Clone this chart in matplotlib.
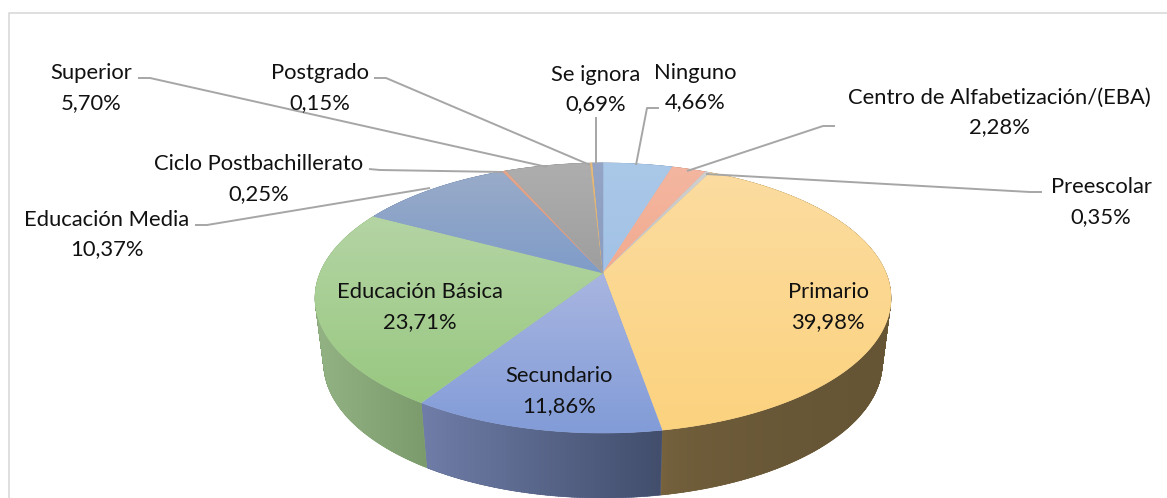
import numpy as np
import matplotlib
matplotlib.use("Agg")
import matplotlib.pyplot as plt
from matplotlib.colors import to_rgb
from matplotlib.patches import PathPatch, Polygon
from matplotlib.path import Path

plt.rcParams['font.family'] = ['Lato', 'DejaVu Sans']

categories = ["Ninguno", "Centro de Alfabetización/(EBA)", "Preescolar", "Primario",
              "Secundario", "Educación Básica", "Educación Media",
              "Ciclo Postbachillerato", "Superior", "Postgrado", "Se ignora"]
values = [4.66, 2.28, 0.35, 39.98, 11.86, 23.71, 10.37, 0.25, 5.70, 0.15, 0.69]

# top face gradient (upper colour, lower colour)
top_hi = ["#aac8e8", "#f4b6a0", "#cfcfcf", "#fcdca0", "#a8b5e0", "#b4d4a4",
          "#99abc9", "#e3a68c", "#aeaeae", "#e6bb7c", "#94a5c6"]
top_lo = ["#a2c2e6", "#f2ab90", "#c4c4c4", "#fbd27e", "#829cd8", "#98c880",
          "#7f9cc8", "#dd9a7e", "#9e9e9e", "#e0b070", "#8a9cc0"]
# side gradient (left colour, right colour, how fast it gets there)
side_l = ["#6d8299", "#a07a68", "#858585", "#7c6640", "#6f7da8", "#94b384",
          "#66788f", "#96705e", "#777777", "#98784c", "#66748c"]
side_r = ["#6d8299", "#a07a68", "#858585", "#655535", "#424e6c", "#7b9b6c",
          "#66788f", "#96705e", "#777777", "#98784c", "#66748c"]
side_bend = [1, 1, 1, 0.3, 1, 1, 1, 1, 1, 1, 1]

# label centre x, first line y, second line y
label_pos = [(695, 72, 101), (999, 97, 126), (1101, 186, 216), (828, 291, 321),
             (559, 375, 405), (420, 291, 321), (107, 219, 248), (259, 163, 193),
             (91, 72, 102), (320, 72, 102), (596, 74, 103)]
# leader lines, None for labels sitting inside the pie
leaders = [[(659, 108), (647, 108), (636, 165)],
           [(835, 126), (823, 126), (687, 171)],
           [(1042, 192), (1030, 192), (706, 174)],
           None, None, None,
           [(195, 225), (207, 225), (430, 188)],
           [(369, 169), (380, 170), (503, 172)],
           [(138, 78), (150, 78), (547, 167)],
           [(374, 78), (386, 78), (590, 165)],
           [(596, 117), (596, 164)]]

# pie in perspective
cx, cy = 603, 273
rad_x, rad_y, persp = 283, 130.4, 0.185
depth, shrink = 65, 0.97


def rim(t):
    x = np.sin(t)
    y = np.cos(t)
    w = 1 + persp * y
    return cx + rad_x * x / w, cy - rad_y * y / w


def grad_fill(ax, path, c1, c2, vertical, z, bend=1):
    base = tuple((np.array(to_rgb(c1)) + np.array(to_rgb(c2))) / 2)
    ax.add_patch(PathPatch(path, fc=base, ec=base, lw=0.4, zorder=z))
    k = np.linspace(0, 1, 128)[:, None] ** bend
    ramp = (1 - k) * np.array(to_rgb(c1)) + k * np.array(to_rgb(c2))
    img = ramp[:, None, :] if vertical else ramp[None, :, :]
    x0, y0 = path.vertices.min(axis=0)
    x1, y1 = path.vertices.max(axis=0)
    im = ax.imshow(img, extent=(x0, x1, y1, y0), aspect='auto',
                   interpolation='bilinear', zorder=z + 0.01)
    im.set_clip_path(path, transform=ax.transData)


def side_path(xs, ys):
    # one quad per rim step, so the outline at the left and right turn is swept too
    lx = cx + shrink * (xs - cx)
    ly = ys + depth
    quads = []
    for j in range(len(xs) - 1):
        q = np.array([[xs[j], ys[j]], [xs[j + 1], ys[j + 1]],
                      [lx[j + 1], ly[j + 1]], [lx[j], ly[j]]])
        area = np.sum(q[:, 0] * np.roll(q[:, 1], -1) - np.roll(q[:, 0], -1) * q[:, 1])
        if area < 0:
            q = q[::-1]
        quads.append(Path(np.vstack([q, q[:1]]), closed=True))
    return Path.make_compound_path(*quads)


fig = plt.figure(figsize=(11.67, 4.98), dpi=100)
ax = fig.add_axes([0, 0, 1, 1])

edges = np.concatenate([[0], np.cumsum(values)]) / np.sum(values) * 2 * np.pi
faces = []
for i in range(len(values)):
    t = np.linspace(edges[i], edges[i + 1], max(int(values[i] * 8), 6))
    xs, ys = rim(t)
    faces.append((xs, ys))
    grad_fill(ax, side_path(xs, ys), side_l[i], side_r[i], False, 1 + i * 0.1, side_bend[i])

for i, (xs, ys) in enumerate(faces):
    pts = np.vstack([[cx, cy], np.column_stack([xs, ys]), [cx, cy]])
    grad_fill(ax, Path(pts, closed=True), top_hi[i], top_lo[i], True, 3 + i * 0.1)

for line in leaders:
    if line:
        ax.plot(*zip(*line), color="#a6a6a6", lw=1.4, solid_capstyle='butt', zorder=5)

for name, val, (lx, y1, y2) in zip(categories, values, label_pos):
    pct = "{:.2f}%".format(val).replace(".", ",")
    ax.text(lx, y1 + 7, name, ha='center', va='baseline', fontsize=15.8, color="#111111", zorder=6)
    ax.text(lx, y2 + 7, pct, ha='center', va='baseline', fontsize=15.8, color="#111111", zorder=6)

# chart frame, only top and left edges show
ax.plot([8.5, 8.5, 1167], [498, 12.5, 12.5], color="#d9d9d9", lw=1.2, zorder=0.5)

ax.set_xlim(0, 1167)
ax.set_ylim(498, 0)
ax.axis('off')
fig.savefig("out.png", dpi=100, facecolor='white')
